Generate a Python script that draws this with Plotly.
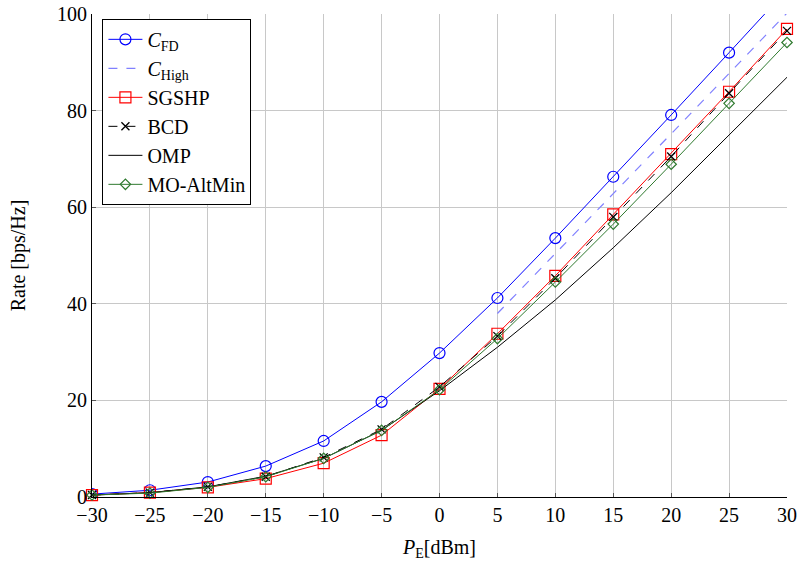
import plotly.graph_objects as go

p_dbm = [-30, -25, -20, -15, -10, -5, 0, 5, 10, 15, 20, 25, 30]
c_fd = [0.6, 1.4, 3.1, 6.4, 11.6, 19.7, 29.8, 41.2, 53.6, 66.3, 79.1, 92.0, 105.0]
p_high = [5, 10, 15, 20, 25, 30]
c_high = [38.0, 50.3, 62.8, 75.2, 87.7, 100.2]
sgshp = [0.4, 0.9, 2.0, 3.8, 7.0, 12.8, 22.4, 33.8, 45.8, 58.5, 71.0, 83.9, 96.9]
bcd = [0.4, 0.9, 2.1, 4.2, 8.2, 14.0, 22.8, 33.3, 45.3, 58.0, 70.5, 83.6, 96.5]
omp = [0.4, 0.9, 2.1, 4.3, 8.0, 13.8, 22.0, 31.0, 40.8, 51.6, 63.0, 75.0, 86.9]
mo_altmin = [0.4, 0.8, 2.0, 4.2, 8.0, 13.8, 22.2, 32.8, 44.5, 56.5, 68.9, 81.5, 94.1]

FONT = "Liberation Serif"

fig = go.Figure()
fig.add_trace(go.Scatter(x=p_dbm, y=c_fd, name="<i>C</i><sub>FD</sub>", mode="lines+markers",
                         line=dict(color="#0000ff", width=1),
                         marker=dict(symbol="circle-open", size=11, color="#0000ff", line=dict(width=1.2))))
fig.add_trace(go.Scatter(x=p_high, y=c_high, name="<i>C</i><sub>High</sub>", mode="lines",
                         line=dict(color="#8080ff", width=1.2, dash="dash")))
fig.add_trace(go.Scatter(x=p_dbm, y=sgshp, name="SGSHP", mode="lines+markers", cliponaxis=False,
                         line=dict(color="#ff0000", width=1),
                         marker=dict(symbol="square-open", size=11, color="#ff0000", line=dict(width=1.2))))
fig.add_trace(go.Scatter(x=p_dbm, y=bcd, name="BCD", mode="lines+markers", cliponaxis=False,
                         line=dict(color="#000000", width=1, dash="dash"),
                         marker=dict(symbol="x-thin-open", size=8, color="#000000", line=dict(width=1.3, color="#000000"))))
fig.add_trace(go.Scatter(x=p_dbm, y=omp, name="OMP", mode="lines", cliponaxis=False,
                         line=dict(color="#000000", width=1)))
fig.add_trace(go.Scatter(x=p_dbm, y=mo_altmin, name="MO-AltMin", mode="lines+markers", cliponaxis=False,
                         line=dict(color="#2f7a2f", width=1),
                         marker=dict(symbol="diamond-open", size=8, color="#2f7a2f", line=dict(width=1.2))))

fig.update_layout(
    width=798, height=563,
    margin=dict(l=92, r=11, t=14, b=66),
    paper_bgcolor="white", plot_bgcolor="white",
    font=dict(family=FONT, size=20, color="black"),
    legend=dict(x=0.015, y=0.99, xanchor="left", yanchor="top",
                bgcolor="white", bordercolor="black", borderwidth=1,
                font=dict(family=FONT, size=20), tracegroupgap=0, itemwidth=34),
    showlegend=True,
)
fig.update_xaxes(range=[-30, 30], tickvals=p_dbm, showgrid=True, gridcolor="#c8c8c8", gridwidth=1,
                 zeroline=False, showline=True, linecolor="black", linewidth=1, automargin=False,
                 ticks="inside", ticklen=4, tickcolor="#555555",
                 title=dict(text="<i>P</i><sub>E</sub>[dBm]", font=dict(size=20), standoff=14),
                 tickfont=dict(size=20))
fig.update_yaxes(range=[0, 100], tickvals=[0, 20, 40, 60, 80, 100], showgrid=True, gridcolor="#c8c8c8",
                 gridwidth=1, zeroline=False, showline=True, linecolor="black", linewidth=1, automargin=False,
                 ticks="inside", ticklen=4, tickcolor="#555555",
                 title=dict(text="Rate [bps/Hz]", font=dict(size=20), standoff=26),
                 tickfont=dict(size=20))

fig.write_html("out.html", config={"displayModeBar": False},
               post_script="document.body.style.margin='0';document.body.style.padding='0';")
